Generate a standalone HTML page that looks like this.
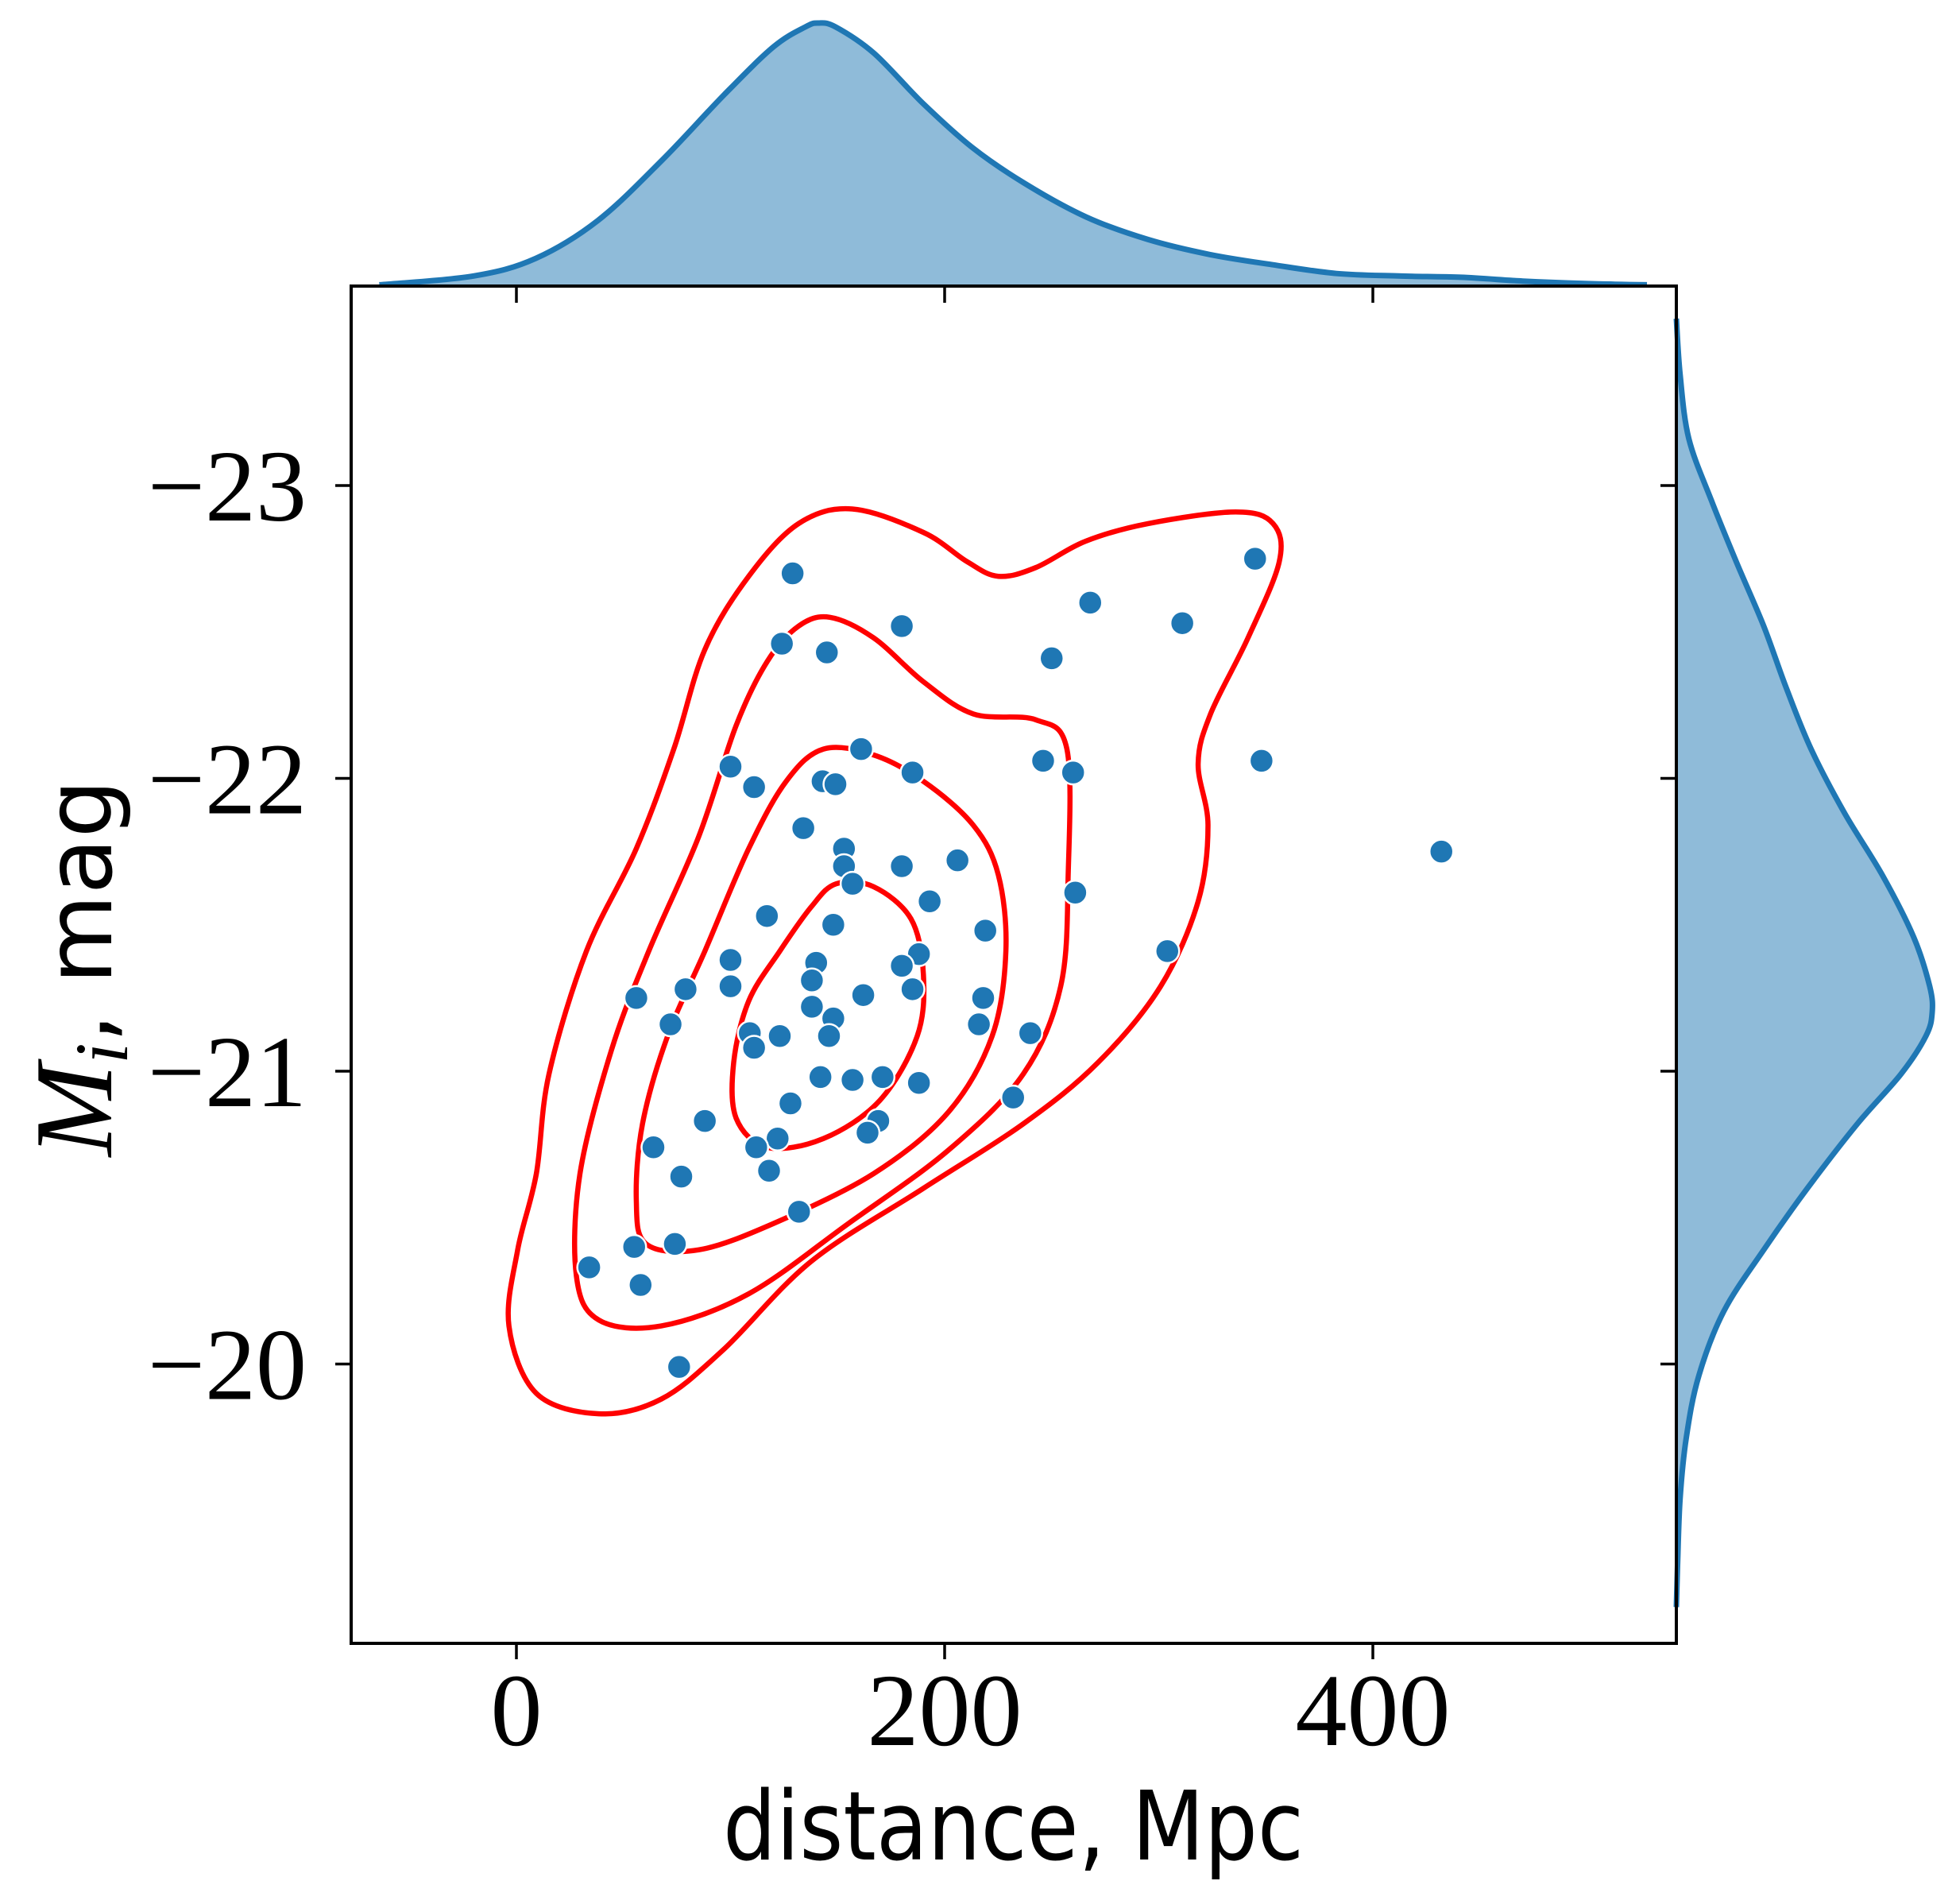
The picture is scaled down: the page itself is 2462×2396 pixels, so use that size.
<!DOCTYPE html>
<html><head><meta charset="utf-8"><style>
html,body{margin:0;padding:0;background:#fff;}
svg{display:block;}
</style></head><body>
<svg id="chart" width="2462" height="2396" viewBox="0 0 2462 2396" xmlns="http://www.w3.org/2000/svg">
<rect width="2462" height="2396" fill="#fff"/>
<g id="topMarg"></g>
<g id="rightMarg"></g>
<g id="contours"></g>
<g id="points"></g>
<g id="axes"></g>
</svg>
<script>
// ---- data ----
const xTicks = [0, 200, 400];
const yTicks = [-23, -22, -21, -20];
const xTickLabels = ["0", "200", "400"];
const yTickLabels = ["\u221223", "\u221222", "\u221221", "\u221220"];
const pointX = [129,124,145,180,345,268,311,250,100,111,143,149,161,185,246,260,348,432,134,153,153,157,180,206,117,148,193,261,219,100,100,79,56,72,140,138,188,180,185,218,138,148,162,109,123,111,146,216,240,304,142,157,171,188,128,88,169,164,232,122,112,64,118,77,132,55,74,34,58,76];
const pointY = [-22.70,-22.46,-22.43,-22.52,-22.75,-22.60,-22.53,-22.41,-22.04,-21.97,-21.99,-21.98,-22.10,-22.02,-22.06,-22.02,-22.06,-21.75,-21.83,-21.76,-21.70,-21.64,-21.70,-21.72,-21.53,-21.50,-21.58,-21.61,-21.48,-21.38,-21.29,-21.28,-21.25,-21.16,-21.37,-21.31,-21.40,-21.36,-21.28,-21.25,-21.22,-21.18,-21.26,-21.13,-21.12,-21.08,-21.12,-21.16,-21.13,-21.41,-20.98,-20.97,-20.98,-20.96,-20.89,-20.83,-20.83,-20.79,-20.91,-20.77,-20.74,-20.74,-20.66,-20.64,-20.52,-20.40,-20.41,-20.33,-20.27,-19.99];
const kdeXVals = [-64,-20,9,38,68,97,120,135,141,149,167,190,213,237,266,295,324,353,383,412,441,470,499,528];
const kdeXDens = [1,8,22,52,100,152,190,206,209,206,185,145,110,82,55,37,25,17,10,8,7,4,2,1];
const kdeYVals = [-23.57,-23.38,-23.16,-22.95,-22.74,-22.52,-22.31,-22.10,-21.88,-21.67,-21.46,-21.29,-21.20,-21.12,-20.99,-20.82,-20.60,-20.39,-20.18,-19.96,-19.75,-19.54,-19.32,-19.17];
const kdeYDens = [0,3,10,28,48,70,88,108,135,165,190,203,205,200,180,145,105,70,38,18,8,3,1,0];
const c1X = [156.9,190.1,210.5,225.1,242.6,265.9,295.0,335.9,353.4,356.3,341.7,324.2,318.4,323.0,318.4,300.9,271.7,236.7,190.1,137.6,96.8,67.6,38.5,9.3,-3.5,0.6,9.3,15.2,32.7,56.0,73.5,88.0,108.5,131.8];
const c1Y = [-22.92,-22.84,-22.74,-22.69,-22.72,-22.81,-22.87,-22.91,-22.87,-22.74,-22.48,-22.22,-22.05,-21.84,-21.58,-21.29,-21.03,-20.82,-20.60,-20.35,-20.05,-19.88,-19.83,-19.90,-20.13,-20.39,-20.65,-20.99,-21.41,-21.76,-22.10,-22.44,-22.69,-22.87];
const c2X = [131.8,146.4,166.8,190.1,213.4,242.6,257.1,257.7,254.2,236.7,201.7,155.1,108.5,67.6,38.5,28.0,29.7,44.3,61.8,85.1,102.6,117.2];
const c2Y = [-22.52,-22.55,-22.48,-22.33,-22.22,-22.20,-22.10,-21.67,-21.29,-20.99,-20.73,-20.48,-20.24,-20.13,-20.15,-20.30,-20.65,-21.07,-21.41,-21.80,-22.18,-22.40];
const c3X = [143.4,166.8,190.1,213.4,225.1,228.6,222.2,201.7,166.8,120.1,85.1,60.6,56.0,58.9,70.6,88.0,108.5,126.0];
const c3Y = [-22.10,-22.08,-21.99,-21.84,-21.67,-21.41,-21.12,-20.86,-20.65,-20.48,-20.39,-20.41,-20.56,-20.82,-21.12,-21.41,-21.76,-21.99];
const c4X = [149.3,166.8,184.3,190.1,187.2,169.7,143.4,117.2,102.6,101.5,108.5,123.0,137.6];
const c4Y = [-21.64,-21.63,-21.52,-21.33,-21.12,-20.90,-20.77,-20.74,-20.84,-21.03,-21.24,-21.41,-21.56];

// ---- layout ----
const L=442, R=2110, T=360, B=2068;
const NS='http://www.w3.org/2000/svg';
function sx(v){ return 650 + v*2.695; }
function sy(v){ return 1348 + (v+21)*368.5; }
const densScaleX = 331/209, densScaleY = 322/205;
function mk(tag, attrs, parent){
  const e=document.createElementNS(NS,tag);
  for(const k in attrs) e.setAttribute(k,attrs[k]);
  parent.appendChild(e); return e;
}
function smoothClosed(pts){
  const n=pts.length; let d='M'+pts[0][0].toFixed(1)+','+pts[0][1].toFixed(1);
  for(let i=0;i<n;i++){
    const p0=pts[(i-1+n)%n],p1=pts[i],p2=pts[(i+1)%n],p3=pts[(i+2)%n];
    const c1=[p1[0]+(p2[0]-p0[0])/6,p1[1]+(p2[1]-p0[1])/6];
    const c2=[p2[0]-(p3[0]-p1[0])/6,p2[1]-(p3[1]-p1[1])/6];
    d+='C'+c1[0].toFixed(1)+','+c1[1].toFixed(1)+' '+c2[0].toFixed(1)+','+c2[1].toFixed(1)+' '+p2[0].toFixed(1)+','+p2[1].toFixed(1);
  }
  return d+'Z';
}
function smoothOpen(pts){
  let d='M'+pts[0][0].toFixed(1)+','+pts[0][1].toFixed(1); const n=pts.length;
  for(let i=0;i<n-1;i++){
    const p0=pts[Math.max(i-1,0)],p1=pts[i],p2=pts[i+1],p3=pts[Math.min(i+2,n-1)];
    const c1=[p1[0]+(p2[0]-p0[0])/6,p1[1]+(p2[1]-p0[1])/6];
    const c2=[p2[0]-(p3[0]-p1[0])/6,p2[1]-(p3[1]-p1[1])/6];
    d+='C'+c1[0].toFixed(1)+','+c1[1].toFixed(1)+' '+c2[0].toFixed(1)+','+c2[1].toFixed(1)+' '+p2[0].toFixed(1)+','+p2[1].toFixed(1);
  }
  return d;
}

// top marginal
const tg=document.getElementById('topMarg');
const tp=kdeXVals.map((v,i)=>[sx(v), T - kdeXDens[i]*densScaleX]);
const tline=smoothOpen(tp);
const tf=mk('path',{d:tline+'L'+tp[tp.length-1][0]+','+T+'L'+tp[0][0]+','+T+'Z',fill:'#8fbbd9',stroke:'none'},tg);


const tl=mk('path',{d:tline,fill:'none',stroke:'#1f77b4','stroke-width':7,'stroke-linejoin':'round'},tg);



// right marginal
const rg=document.getElementById('rightMarg');
const rp=kdeYVals.map((v,i)=>[R + kdeYDens[i]*densScaleY, sy(v)]);
const rline=smoothOpen(rp);
const rf=mk('path',{d:rline+'L'+R+','+rp[rp.length-1][1]+'L'+R+','+rp[0][1]+'Z',fill:'#8fbbd9',stroke:'none'},rg);


const rl=mk('path',{d:rline,fill:'none',stroke:'#1f77b4','stroke-width':7,'stroke-linejoin':'round'},rg);



// contours
const cg=document.getElementById('contours');
[[c1X,c1Y],[c2X,c2Y],[c3X,c3Y],[c4X,c4Y]].forEach((c,k)=>{
  const pts=c[0].map((v,i)=>[sx(v),sy(c[1][i])]);
  const p=mk('path',{d:smoothClosed(pts),fill:'none',stroke:'#ff0000','stroke-width':6.5},cg);
  
  
});

// points
const pg=document.getElementById('points');
pointX.forEach((v,i)=>{
  const c=mk('circle',{cx:sx(v),cy:sy(pointY[i]),r:15,fill:'#1f77b4',stroke:'#fff','stroke-width':2.5},pg);
  
  
});

// axes
const ag=document.getElementById('axes');
const frame=mk('rect',{x:L,y:T,width:R-L,height:B-T,fill:'none',stroke:'#000','stroke-width':4},ag);


xTicks.forEach((v,i)=>{
  const x=sx(v);
  const t1=mk('line',{x1:x,y1:B,x2:x,y2:B+20,stroke:'#000','stroke-width':3.5},ag);
  
  
  const t2=mk('line',{x1:x,y1:T,x2:x,y2:T+21,stroke:'#000','stroke-width':3.5},ag);
  
  
  const tx=mk('text',{x:x,y:2196,'text-anchor':'middle','font-family':'"Liberation Serif", serif','font-size':130},ag);
  tx.textContent=xTickLabels[i];
  
  
});
yTicks.forEach((v,i)=>{
  const y=sy(v);
  const t1=mk('line',{x1:L-20,y1:y,x2:L,y2:y,stroke:'#000','stroke-width':3.5},ag);
  
  
  const t2=mk('line',{x1:R-20,y1:y,x2:R,y2:y,stroke:'#000','stroke-width':3.5},ag);
  
  
  const ty=mk('text',{x:386,y:y+44,'text-anchor':'end','font-family':'"Liberation Serif", serif','font-size':128},ag);
  ty.textContent=yTickLabels[i];
  
  
});
</script>
<svg style="position:absolute;left:0;top:0" width="2462" height="2396">
<text x="910" y="2340" textLength="731" lengthAdjust="spacingAndGlyphs" font-family="'DejaVu Sans', sans-serif" font-size="120">distance, Mpc</text>
<text transform="translate(140,1218) rotate(-90)" text-anchor="middle" font-size="116"><tspan font-family="'Liberation Serif', serif" font-style="italic" font-size="140">M</tspan><tspan font-family="'Liberation Serif', serif" font-style="italic" font-size="95" dy="20">i</tspan><tspan font-family="'DejaVu Sans', sans-serif" dy="-20">, mag</tspan></text>
</svg>
</body></html>
